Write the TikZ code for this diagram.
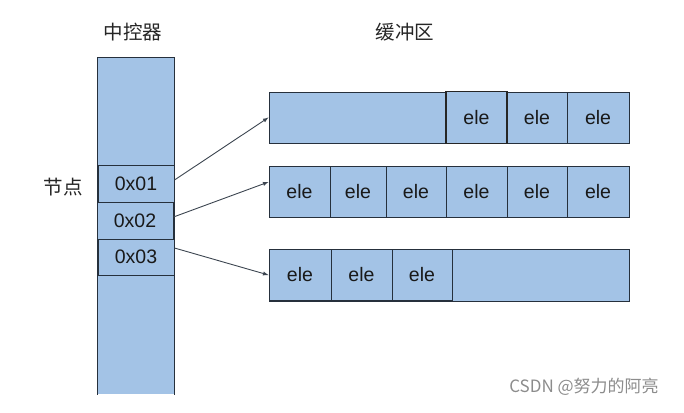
\documentclass[tikz,border=0pt]{standalone}
\usepackage{fontspec}
\setmainfont{Liberation Sans}
\newfontfamily\cjk{Noto Sans CJK SC}
\usetikzlibrary{arrows}
\usetikzlibrary{positioning}
\usetikzlibrary{calc}
\definecolor{cellblue}{RGB}{163,195,230}
\definecolor{edgegray}{RGB}{38,48,60}
\tikzstyle{cell}=[rectangle,draw=edgegray,fill=cellblue,line width=1pt,inner sep=0pt,text=black!90,font=\fontsize{19.5}{19.5}\selectfont]
\tikzstyle{slot}=[cell,minimum width=76pt]
\tikzstyle{buffer}=[cell,minimum width=360pt]
\tikzstyle{pointer}=[draw=edgegray!90,line width=0.9pt,-latex]
\tikzstyle{title}=[font=\cjk\fontsize{19.5}{19.5}\selectfont,text=black!85]

\begin{document}
\begin{tikzpicture}[x=1pt,y=-1pt]
    \useasboundingbox (0,0) rectangle (684,412);
    % The controller column, open at the bottom
    \node[cell,draw=none,minimum width=76pt,minimum height=336pt] (ctrl) at (136,226) {};
    \draw[draw=edgegray,line width=1pt] (ctrl.south west) -- (ctrl.north west) -- (ctrl.north east) -- (ctrl.south east);
    % The node slots
    \foreach \pos/\name/\h/\label in {{(136,183.5)/p1/37/0x01}, {(135,220.5)/p2/37/0x02}, {(136,257)/p3/36/0x03}}
        \node[slot,minimum height=\h pt,text depth=-1pt] (\name) at \pos {\label};

    % The three buffers
    \node[buffer,minimum height=51pt] (buf1) at (449,117.5) {};
    \node[buffer,minimum height=51pt] (buf2) at (449,191.5) {};
    \node[buffer,minimum height=52pt] (buf3) at (449,275) {};
    % Then the elements inside them
    \foreach \pos/\name/\w in {{(537,117.5)/b1e5/60}, {(598,117.5)/b1e6/62},
        {(299.5,191.5)/b2e1/61}, {(358,191.5)/b2e2/56}, {(416,191.5)/b2e3/60},
        {(476.5,191.5)/b2e4/61}, {(537,191.5)/b2e5/60}, {(598,191.5)/b2e6/62},
        {(300,275)/b3e1/62}, {(361.5,275)/b3e2/61}, {(422,275)/b3e3/60}}
        \node[cell,minimum width=\w pt,minimum height=51pt] (\name) at \pos {ele};
    \node[cell,line width=1.4pt,draw=black!85,minimum width=61pt,minimum height=52pt] (b1e4) at (476.5,117.5) {ele};

    % Pointers from the slots to the buffers
    \draw[pointer] ([yshift=3.5pt]p1.east) -- (buf1.west);
    \draw[pointer] ([yshift=3.5pt]p2.east) -- ([yshift=9.5pt]buf2.west);
    \draw[pointer] ([yshift=9pt]p3.east) -- (buf3.west);

    % Labels
    \node[title] (ctrltitle) at (133,32) {中控器};
    \node[title] (buftitle) at (405,32) {缓冲区};
    \node[title] (slottitle) at (63,187) {节点};
    \node[font=\cjk\fontsize{17}{17}\selectfont,text=black!45] (mark) at (584,387) {CSDN @努力的阿亮};
\end{tikzpicture}
\end{document}
